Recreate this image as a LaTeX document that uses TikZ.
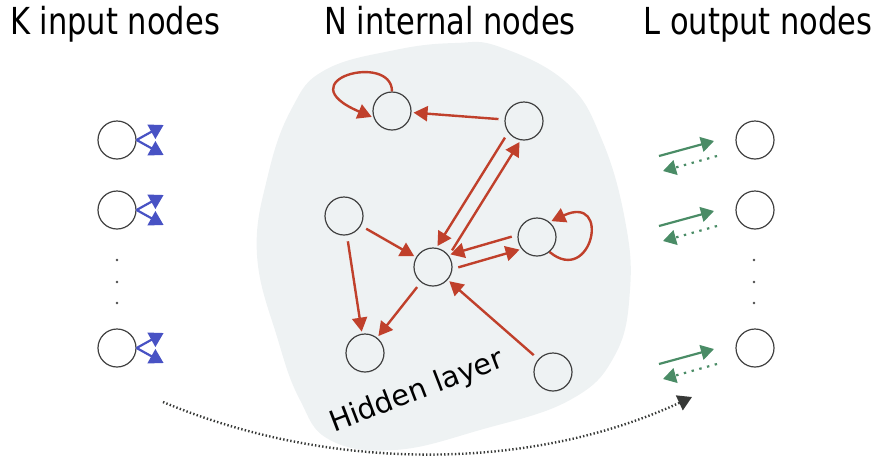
\documentclass[tikz,border=0pt]{standalone}
\usepackage{fontspec}
\setmainfont{DejaVu Sans}
\newfontfamily\headfont{DejaVu Sans}[FakeStretch=0.82]
\usetikzlibrary{arrows.meta}
\definecolor{edgered}{RGB}{192,64,43}
\definecolor{inblue}{RGB}{72,82,196}
\definecolor{outgreen}{RGB}{74,140,102}
\definecolor{blobgray}{RGB}{238,242,243}
\definecolor{skipgray}{RGB}{55,57,55}

\begin{document}
\begin{tikzpicture}[x=0.5pt, y=-0.5pt,
  unit/.style={circle, draw=black!75, line width=0.6pt, minimum size=19pt, inner sep=0pt},
  link/.style={draw=edgered, line width=1.2pt, -{Triangle[length=7pt,width=7.5pt]}, shorten >=1pt, shorten <=3pt},
  feed/.style={draw=inblue, line width=1.1pt, -{Triangle[length=7pt,width=8pt]}},
  readout/.style={draw=outgreen, line width=1.1pt, -{Triangle[length=6.5pt,width=7.5pt]}},
  title/.style={font=\headfont\fontsize{18.6}{22}\selectfont, anchor=base}]
  \useasboundingbox (0,0) rectangle (874,462);
  % reservoir blob
  \fill[blobgray] plot[smooth cycle, tension=0.7] coordinates {
    (257,255) (268,175) (292,108) (325,70) (395,50) (455,43) (500,47) (567,83)
    (602,140) (625,220) (630,290) (615,355) (570,400) (480,430) (395,450)
    (330,440) (300,400) (278,340)};
  % titles
  \node[title] (tin) at (115,34) {K input nodes};
  \node[title] (tres) at (450,34) {N internal nodes};
  \node[title] (tout) at (758,34) {L output nodes};
  % input and output columns
  \foreach \i/\yy in {1/140, 2/210, K/348} {
    \node[unit] (in\i) at (117,\yy) {};
    \node[unit] (out\i) at (755,\yy) {};
    \draw[feed] (in\i.east) -- +(27,-15);
    \draw[feed] (in\i.east) -- +(27,15);
    \draw[readout] ([shift={(-96,16)}]out\i.center) -- ([shift={(-41,1)}]out\i.center);
    \draw[readout, dash pattern=on 1.2pt off 2.8pt] ([shift={(-38,16)}]out\i.center) -- ([shift={(-92,31)}]out\i.center);
  }
  \foreach \yy in {260,282,303} {
    \fill[black!70] (117,\yy) circle[radius=0.7pt];
    \fill[black!70] (754,\yy) circle[radius=0.7pt];
  }
  % internal nodes
  \node[unit] (hTL) at (392,111) {};
  \node[unit] (hTR) at (524,121) {};
  \node[unit] (hL) at (344,216) {};
  \node[unit] (hC) at (433,267) {};
  \node[unit] (hR) at (537,237) {};
  \node[unit] (hBL) at (365,353) {};
  \node[unit] (hBR) at (553,372) {};
  % recurrent connections
  \draw[link] (hTR) -- (hTL);
  \draw[link] (hTR.216) -- (hC.80);
  \draw[link] (hC.36) -- (hTR.260);
  \draw[link] (hR.174) -- (hC.38);
  \draw[link] (hC.-6) -- (hR.218);
  \draw[link] (hL) -- (hC);
  \draw[link] (hL) -- (hBL);
  \draw[link] (hC) -- (hBL);
  \draw[link] (hBR) -- (hC);
  \draw[link, shorten <=0pt] (hTL.90) .. controls (392,52) and (285,80) .. (hTL.200);
  \draw[link, shorten <=0pt] (hR.-50) .. controls (592,287) and (612,193) .. (hR.50);
  \node[rotate=21, font=\fontsize{14.4}{17}\selectfont] (hlabel) at (417,392) {Hidden layer};
  % skip connection
  \coordinate (skipA) at (163,402);
  \coordinate (skipB) at (692,397);
  \draw[skipgray, line width=1.2pt, dash pattern=on 0.7pt off 1.1pt, -{Triangle[length=7pt,width=8pt]}]
    (skipA) .. controls (330,472) and (530,472) .. (skipB);
\end{tikzpicture}
\end{document}
